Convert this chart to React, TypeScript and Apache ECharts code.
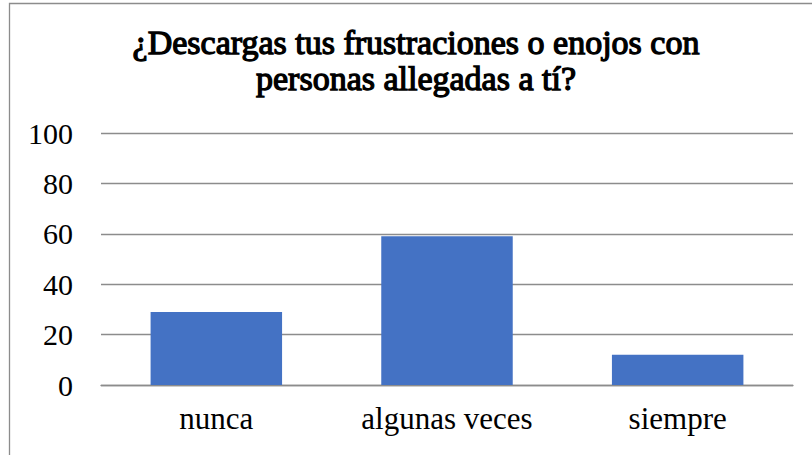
import React, { useEffect, useRef } from "react";
import * as echarts from "echarts";

const categories = ["nunca", "algunas veces", "siempre"];
const values = [29, 59, 12];
const titleText = "¿Descargas tus frustraciones o enojos con\npersonas allegadas a tí?";

export default function App() {
  const ref = useRef<HTMLDivElement>(null);
  useEffect(() => {
    if (!ref.current) return;
    const chart = echarts.init(ref.current, null, { renderer: "svg" });
    const serif = "Liberation Serif";
    chart.setOption({
      animation: false,
      backgroundColor: "#ffffff",
      graphic: [
        {
          type: "rect",
          shape: { x: 9.5, y: 3.5, width: 830, height: 470 },
          style: { fill: "none", stroke: "#8c8c8c", lineWidth: 1.3 },
          silent: true,
        },
        {
          type: "text",
          x: 416,
          y: 24,
          silent: true,
          style: {
            text: titleText,
            align: "center",
            verticalAlign: "top",
            font: "normal 34px 'Liberation Serif'",
            lineHeight: 36,
            fill: "#000000",
            stroke: "#000000",
            lineWidth: 1.3,
          },
        },
      ],
      grid: { left: 101, right: 19, top: 133, bottom: 70, containLabel: false },
      xAxis: {
        type: "category",
        data: categories,
        axisLine: { show: true, lineStyle: { color: "#8c8c8c", width: 1.3 } },
        axisTick: { show: false },
        axisLabel: { fontFamily: serif, fontSize: 31, color: "#000000", margin: 18 },
      },
      yAxis: {
        type: "value",
        min: 0,
        max: 100,
        interval: 20,
        axisLine: { show: false },
        axisTick: { show: false },
        splitLine: { lineStyle: { color: "#8c8c8c", width: 1.3 } },
        axisLabel: { fontFamily: serif, fontSize: 30, color: "#000000", margin: 28 },
      },
      series: [
        {
          type: "bar",
          data: values,
          barWidth: "57%",
          itemStyle: { color: "#4472C4" },
        },
      ],
    });
    return () => chart.dispose();
  }, []);
  return (
    <div
      ref={ref}
      style={{ position: "fixed", left: 0, top: 0, width: 812, height: 455 }}
    />
  );
}
